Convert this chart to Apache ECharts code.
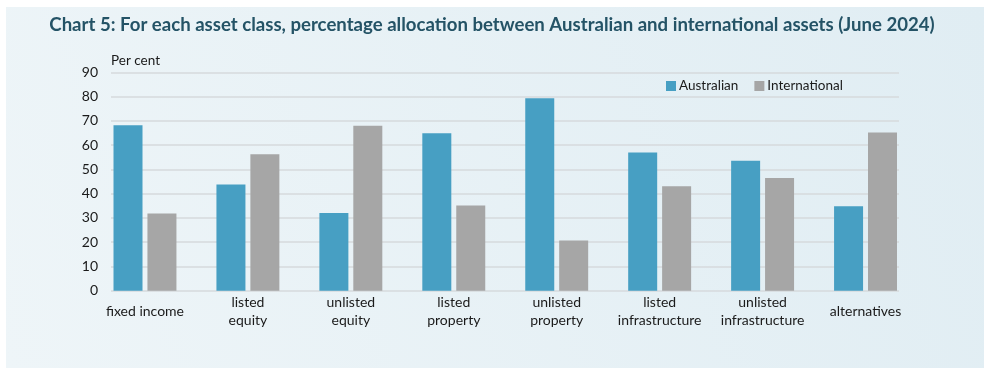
<!DOCTYPE html>
<html><head><meta charset="utf-8">
<script src="https://cdn.jsdelivr.net/npm/echarts@6/dist/echarts.min.js"></script>
<style>html,body{margin:0;padding:0;background:#fff}#c{width:984px;height:378px}</style>
</head><body><div id="c"></div>
<script>
const categories = ['fixed income', 'listed\nequity', 'unlisted\nequity', 'listed\nproperty', 'unlisted\nproperty', 'listed\ninfrastructure', 'unlisted\ninfrastructure', 'alternatives'];
const australian = [68.2, 43.8, 32.0, 64.9, 79.3, 57.0, 53.6, 34.8];
const international = [31.8, 56.2, 68.0, 35.1, 20.7, 43.0, 46.4, 65.2];
const yTicks = [0, 10, 20, 30, 40, 50, 60, 70, 80, 90];
const FONT = 'Lato, "Open Sans", sans-serif';

const chart = echarts.init(document.getElementById('c'), null, {renderer: 'canvas'});
chart.setOption({
  animation: false,
  backgroundColor: '#ffffff',
  graphic: [
    {type: 'rect', left: 6, top: 7, z: -10, shape: {width: 978, height: 361},
     style: {fill: new echarts.graphic.LinearGradient(0, 1, 1, 0, [
       {offset: 0, color: '#eef5f8'}, {offset: 1, color: '#e0edf3'}])}},
    {type: 'text', left: 'center', top: 15, style: {text: 'Chart 5: For each asset class, percentage allocation between Australian and international assets (June 2024)',
      font: 'bold 18.6px ' + FONT, fill: '#245366'}},
    {type: 'text', left: 111, top: 54, style: {text: 'Per cent', font: '13.5px ' + FONT, fill: '#1a1a1a'}}
  ],
  legend: {
    left: 661, top: 74, itemWidth: 10, itemHeight: 10, itemGap: 16,
    icon: 'rect',
    textStyle: {fontFamily: FONT, fontSize: 13.5, color: '#1a1a1a', padding: [0, 0, 0, -2]},
    data: ['Australian', 'International']
  },
  grid: [
    {left: 93.5, right: 67, top: 72.3, bottom: 87.3},
    {left: 111, right: 85, top: 72.3, bottom: 87.3}
  ],
  xAxis: [
    {type: 'category', gridIndex: 0, data: categories,
     axisLine: {show: false}, axisTick: {show: false},
     axisLabel: {interval: 0, verticalAlign: 'middle', margin: 21, lineHeight: 18,
       fontFamily: FONT, fontSize: 14, color: '#1a1a1a'}},
    {type: 'category', gridIndex: 1, data: categories, show: false}
  ],
  yAxis: [
    {type: 'value', gridIndex: 0, min: 0, max: 90, interval: 10, show: false, splitLine: {show: false}},
    {type: 'value', gridIndex: 1, min: 0, max: 90, interval: 10,
     axisLine: {show: false}, axisTick: {show: false},
     axisLabel: {margin: 13, fontFamily: FONT, fontSize: 14, color: '#1a1a1a',
       formatter: v => yTicks.includes(v) ? String(v) : ''},
     splitLine: {lineStyle: {color: '#d6dadc', width: 1.5}}}
  ],
  series: [
    {name: 'Australian', type: 'bar', xAxisIndex: 0, yAxisIndex: 0, data: australian,
     barWidth: 29, barGap: '17%', itemStyle: {color: '#479fc3'}, z: 3},
    {name: 'International', type: 'bar', xAxisIndex: 0, yAxisIndex: 0, data: international,
     barWidth: 29, barGap: '17%', itemStyle: {color: '#a6a6a6'}, z: 3}
  ]
});
</script></body></html>
